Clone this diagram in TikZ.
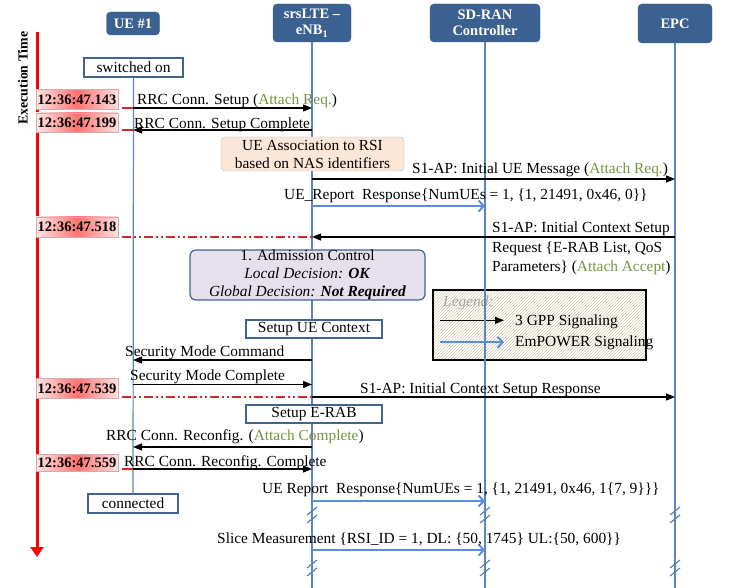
\documentclass[tikz,border=0pt]{standalone}
\usepackage{fontspec}
\setmainfont{Liberation Serif}
\usepackage{xcolor}
\definecolor{mhead}{HTML}{3B6191}
\definecolor{mlife}{HTML}{5C85BC}
\definecolor{mbox}{HTML}{41638F}
\definecolor{mblue}{HTML}{5B8ED6}
\definecolor{mred}{HTML}{FF0000}
\definecolor{mdash}{HTML}{D02828}
\definecolor{mgreen}{HTML}{77933C}
\definecolor{mpeach}{HTML}{FCE6D6}
\definecolor{mteal}{HTML}{9CC3D5}
\definecolor{mlav}{HTML}{E5E0EC}
\definecolor{mhatch}{HTML}{CFCAAE}
\usepackage{tikz}
\usetikzlibrary{arrows.meta,patterns}

\tikzset{
  head/.style={draw=mhead, fill=mhead, rounded corners=4pt, text=white,
    font=\fontsize{14.5}{16.5}\selectfont\bfseries, align=center, inner sep=0pt},
  life/.style={draw=mlife, line width=1.2pt},
  msg/.style={line width=1.3pt, -{Triangle[length=9pt,width=7pt]}},
  emp/.style={mblue, line width=2pt, -{Straight Barb[length=5pt,width=11pt]}},
  lbl/.style={font=\fontsize{15.4}{18}\selectfont, inner sep=0pt, anchor=base west},
  stamp/.style={draw=red!30!gray!50, left color=red!10, right color=red!12,
    middle color=red!55, minimum width=82pt, minimum height=20pt, inner sep=0pt,
    font=\fontsize{14.5}{16}\selectfont\bfseries},
  tline/.style={mdash, line width=1.2pt,
    dash pattern=on 9pt off 3pt on 2pt off 3pt on 2pt off 3pt},
  tshort/.style={mdash, line width=1.2pt},
  stbox/.style={draw=mbox, fill=white, line width=1.2pt, minimum height=18pt,
    inner sep=0pt, font=\fontsize{15.4}{18}\selectfont},
  brk/.style={mlife, line width=1.2pt},
}

\begin{document}
\begin{tikzpicture}[x=1pt, y=-1pt]
\useasboundingbox (0,0) rectangle (731,588);

% participants
\node[head, minimum width=53pt, minimum height=23pt] (ue) at (133,23.5) {UE \#1};
\node[head, minimum width=78pt, minimum height=38pt] (enb) at (312,23) {srsLTE –\\eNB\textsubscript{1}};
\node[head, minimum width=110pt, minimum height=38pt] (sdran) at (485,23) {SD-RAN\\Controller};
\node[head, minimum width=74pt, minimum height=39pt] (epc) at (675,23.5) {EPC};

\coordinate (bot) at (0,588);
\coordinate (tx) at (122,0);
\coordinate (y1) at (0,108);
\coordinate (y2) at (0,130);
\coordinate (y3) at (0,179);
\coordinate (y4) at (0,206);
\coordinate (y5) at (0,237);
\coordinate (y6) at (0,360);
\coordinate (y7) at (0,384.5);
\coordinate (y8) at (0,397);
\coordinate (y9) at (0,447);
\coordinate (y10) at (0,469);
\coordinate (y11) at (0,501);
\coordinate (y12) at (0,550);

% legend
\node[draw, line width=1.2pt, pattern=north east lines, pattern color=mhatch,
  minimum width=213pt, minimum height=70pt] (legend) at (539.5,325) {};
\node[lbl, font=\fontsize{15.4}{18}\selectfont\itshape, text=gray!70] (lgt) at (443,306) {Legend:};
\node[lbl] (lg1) at (515,325) {3 GPP Signaling};
\node[lbl] (lg2) at (515,346) {EmPOWER Signaling};
\draw[msg] ([xshift=-75pt,yshift=1pt]lg1.west) -- ([xshift=-11pt,yshift=1pt]lg1.west);
\draw[emp] ([xshift=-75pt]lg2.west) -- ([xshift=-11pt]lg2.west);

% execution time
\coordinate (t0) at (37,32);
\coordinate (t1) at (37,557);
\draw[mred, line width=3pt, -{Triangle[length=10pt,width=13pt]}] (t0) -- (t1);
\node[rotate=90, font=\fontsize{13.8}{16}\selectfont\bfseries] (extime) at (23,78) {Execution Time};

% lifelines
\node[stbox, minimum width=99pt, minimum height=19pt] (on) at (133.5,67.5) {switched on};
\node[stbox, minimum width=90pt, minimum height=19pt] (conn) at (133,503.5) {connected};
\draw[life] (on.south) -- (conn.north);
\draw[life] (enb.south) -- (enb |- bot);
\draw[life] (sdran.south) -- (sdran |- bot);
\draw[life] (epc.south) -- (epc |- bot);
\foreach \l in {enb,sdran,epc}
  \foreach \yy in {515,568}
    \draw[brk] (\l |- 0,\yy) ++(-5,0) -- ++(10,-8) ++(-10,16) -- ++(10,-8);

% timestamps
\node[stamp] (ts1) at (77,99.5) {12:36:47.143};
\node[stamp, minimum height=19pt] (ts2) at (77,122.5) {12:36:47.199};
\node[stamp] (ts3) at (77,227) {12:36:47.518};
\node[stamp] (ts4) at (77,388.5) {12:36:47.539};
\node[stamp, minimum height=17pt] (ts5) at (77,463) {12:36:47.559};
\draw[tshort] (tx |- y1) -- (ue |- y1);
\draw[tshort] (tx |- y2) -- (ue |- y2);
\draw[tline] (tx |- y5) -- (enb |- y5);
\draw[tline] (tx |- y8) -- (enb |- y8);
\draw[tshort] (tx |- y10) -- (ue |- y10);

% messages
\draw[msg] (ue |- y1) -- (enb |- y1);
\node[lbl] (l1) at (137,105) {RRC Conn. Setup (\textcolor{mgreen}{Attach Req.})};
\draw[msg] (enb |- y2) -- (ue |- y2);
\node[lbl] (l2) at (134,128.5) {RRC Conn. Setup Complete};

\node[draw=mteal, fill=mpeach, rounded corners=4pt, minimum width=183pt, minimum height=34pt,
  align=center, inner sep=0pt, font=\fontsize{15.4}{18}\selectfont] (assoc) at (312.5,154)
  {UE Association to RSI\\based on NAS identifiers};

\draw[msg] (enb |- y3) -- (epc |- y3);
\node[lbl] (l3) at (412,174) {S1-AP: Initial UE Message (\textcolor{mgreen}{Attach Req.})};
\draw[emp] (enb |- y4) -- (sdran |- y4);
\node[lbl] (l4) at (284,200) {UE\_Report~ Response\{NumUEs = 1, \{1, 21491, 0x46, 0\}\}};

\draw[msg] (epc |- y5) -- (enb |- y5);
\node[lbl] (l5a) at (492,233) {S1-AP: Initial Context Setup};
\node[lbl] (l5b) at (492,252) {Request \{E-RAB List, QoS};
\node[lbl] (l5c) at (492,271) {Parameters\} (\textcolor{mgreen}{Attach Accept})};

\node[draw=mbox, fill=mlav, line width=1.2pt, rounded corners=6pt, minimum width=235pt,
  minimum height=48pt, align=center, inner sep=0pt, font=\fontsize{15.4}{18}\selectfont] (adm) at (307.5,275)
  {1. Admission Control\\\textit{Local Decision: \textbf{OK}}\\\textit{Global Decision: \textbf{Not Required}}};

\node[stbox, minimum width=136pt] (uectx) at (314,329) {Setup UE Context};
\draw[msg] (enb |- y6) -- (ue |- y6);
\node[lbl] (l6) at (125,356.5) {Security Mode Command};
\draw[msg] (ue |- y7) -- (enb |- y7);
\node[lbl] (l7) at (130,380) {Security Mode Complete};
\draw[msg] (enb |- y8) -- (epc |- y8);
\node[lbl] (l8) at (360,393) {S1-AP: Initial Context Setup Response};

\node[stbox, minimum width=136pt] (erab) at (314,414) {Setup E-RAB};
\draw[msg] (enb |- y9) -- (ue |- y9);
\node[lbl] (l9) at (106,440) {RRC Conn. Reconfig. (\textcolor{mgreen}{Attach Complete})};
\draw[msg] (ue |- y10) -- (enb |- y10);
\node[lbl] (l10) at (124,466) {RRC Conn. Reconfig. Complete};

\draw[emp] (enb |- y11) -- (sdran |- y11);
\node[lbl] (l11) at (262,493) {UE Report~ Response\{NumUEs = 1, \{1, 21491, 0x46, 1\{7, 9\}\}\}};
\draw[emp] (enb |- y12) -- (sdran |- y12);
\node[lbl] (l12) at (217,543) {Slice Measurement \{RSI\_ID = 1, DL: \{50, 1745\} UL:\{50, 600\}\}};
\end{tikzpicture}
\end{document}
